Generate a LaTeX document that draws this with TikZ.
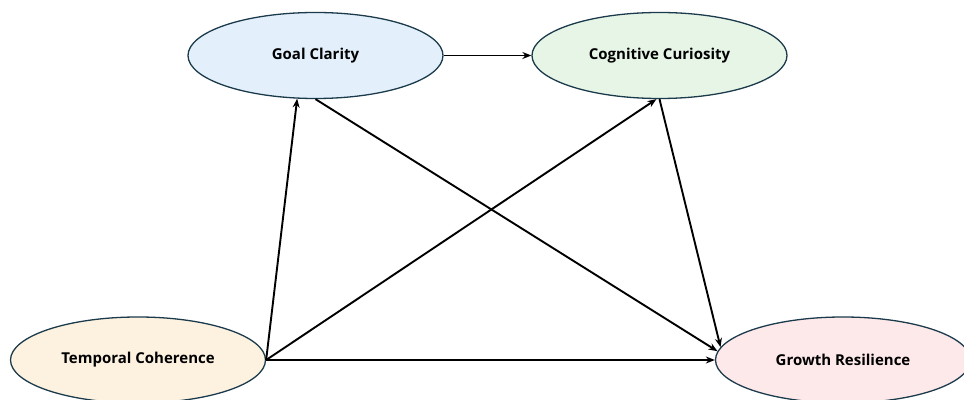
\documentclass[tikz,border=0pt]{standalone}
\usepackage{fontspec}
\setmainfont{Open Sans}
\usetikzlibrary{shapes.geometric,arrows.meta}

\definecolor{goalfill}{HTML}{E3F0FB}
\definecolor{curiofill}{HTML}{E6F5E6}
\definecolor{tempfill}{HTML}{FDF2E0}
\definecolor{growfill}{HTML}{FDE8EA}
\definecolor{rim}{HTML}{1B3A4B}

\tikzset{
  factor/.style={ellipse, draw=rim, line width=1.3pt, minimum width=255pt,
    minimum height=86pt, inner sep=0pt},
  path/.style={-{Stealth[length=9pt,width=7pt]}, line width=1.9pt, black}
}

\begin{document}
\begin{tikzpicture}[x=1pt,y=1pt,font=\fontsize{15}{18}\selectfont\bfseries]
  \useasboundingbox (0,0) rectangle (964,399);
  \node[factor, fill=goalfill] (goal) at (315.5,343.5) {Goal Clarity};
  \node[factor, fill=curiofill] (curio) at (659.5,343.5) {Cognitive Curiosity};
  \node[factor, fill=tempfill] (temp) at (138,39) {Temporal Coherence};
  \node[factor, fill=growfill] (grow) at (843,39) {Growth Resilience};
  \draw[path] (goal) -- (curio);
  \draw[path] (temp.east) -- (goal.247);
  \draw[path] (temp.east) -- (curio.266);
  \draw[path] (temp.east) -- (grow.west);
  \draw[path] (goal.south) -- (grow.176);
  \draw[path] (curio.south) -- (grow.174);
\end{tikzpicture}
\end{document}
